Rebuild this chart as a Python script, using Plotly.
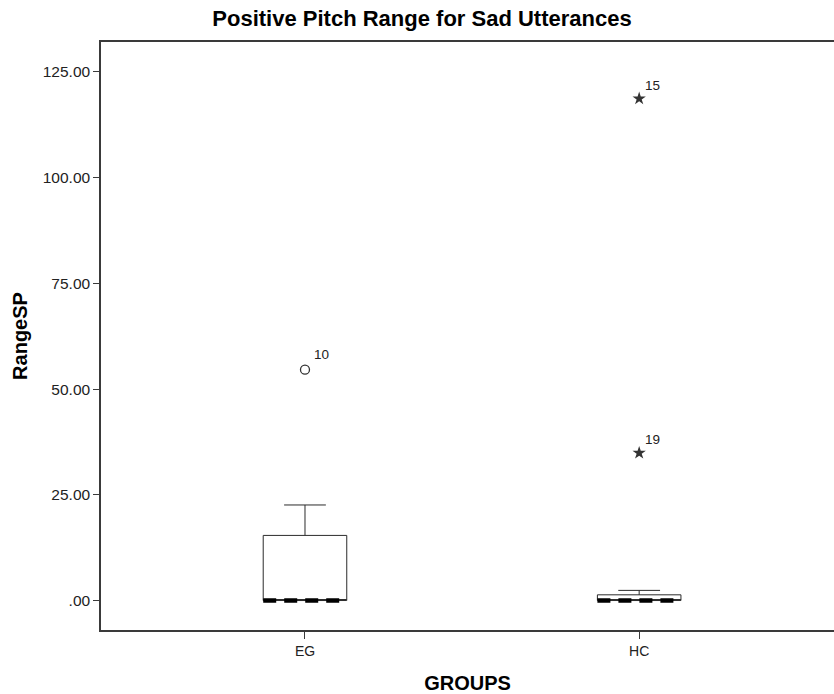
import plotly.graph_objects as go

# Group summary statistics (RangeSP)
groups = ["EG", "HC"]
group_pos = [0, 1]
q1 = [0.0, 0.0]
median = [0.0, 0.0]
q3 = [15.4, 1.35]
lower_fence = [0.0, 0.0]
upper_fence = [22.6, 2.4]

# Outliers (circle) and extreme values (star), with case numbers
outlier_group = [0]
outlier_value = [54.6]
outlier_case = ["10"]
extreme_group = [1, 1]
extreme_value = [118.7, 34.9]
extreme_case = ["15", "19"]

y_ticks = [0, 25, 50, 75, 100, 125]
y_tick_labels = [".00", "25.00", "50.00", "75.00", "100.00", "125.00"]

FONT = "Liberation Sans, Arial, sans-serif"
BOX_W = 0.25

fig = go.Figure()

fig.add_trace(go.Box(
    x=group_pos, q1=q1, median=median, q3=q3,
    lowerfence=lower_fence, upperfence=upper_fence,
    width=BOX_W, whiskerwidth=0.5,
    fillcolor="white", line=dict(color="#2b2b2b", width=1),
    boxpoints=False, showlegend=False, hoverinfo="skip",
))

# Thick dashed median lines
for xp, m in zip(group_pos, median):
    fig.add_trace(go.Scatter(
        x=[xp - BOX_W / 2, xp + BOX_W / 2], y=[m, m], mode="lines",
        line=dict(color="black", width=4.5, dash="13px,8px"),
        showlegend=False, hoverinfo="skip",
    ))

fig.add_trace(go.Scatter(
    x=outlier_group, y=outlier_value, mode="markers",
    marker=dict(symbol="circle-open", size=9, color="#333", line=dict(width=1.3)),
    showlegend=False, hoverinfo="skip",
))
fig.add_trace(go.Scatter(
    x=extreme_group, y=extreme_value, mode="markers",
    marker=dict(symbol="star", size=10, color="#333", line=dict(width=0)),
    showlegend=False, hoverinfo="skip",
))

for xp, v, c in zip(outlier_group, outlier_value, outlier_case):
    fig.add_annotation(x=xp, y=v, text=c, showarrow=False, xanchor="left",
                       yanchor="middle", xshift=7, yshift=15,
                       font=dict(family=FONT, size=13.5, color="#222"))
for xp, v, c in zip(extreme_group, extreme_value, extreme_case):
    fig.add_annotation(x=xp, y=v, text=c, showarrow=False, xanchor="left",
                       yanchor="middle", xshift=4, yshift=13,
                       font=dict(family=FONT, size=13.5, color="#222"))

fig.update_layout(
    width=834, height=694,
    margin=dict(l=101, r=0, t=42, b=64),
    paper_bgcolor="white", plot_bgcolor="white",
    font=dict(family=FONT, color="black"),
    title=dict(text="<b>Positive Pitch Range for Sad Utterances</b>",
               x=0.506, xref="container", xanchor="center",
               y=0.974, yref="container", yanchor="middle",
               font=dict(family=FONT, size=22, color="black")),
    xaxis=dict(
        range=[-0.6104, 1.583], tickvals=group_pos, ticktext=groups,
        showgrid=False, zeroline=False,
        showline=True, mirror=True, linecolor="#3a3a3a", linewidth=1.5,
        ticks="outside", ticklen=7, tickcolor="#3a3a3a", tickwidth=1.2,
        tickfont=dict(family=FONT, size=14, color="#222"),
        title=dict(text="<b>GROUPS</b>", standoff=18,
                   font=dict(family=FONT, size=20, color="black")),
    ),
    yaxis=dict(
        range=[-6.97, 132.09], tickvals=y_ticks, ticktext=y_tick_labels,
        showgrid=False, zeroline=False,
        showline=True, mirror=False, linecolor="#3a3a3a", linewidth=1.5,
        ticks="outside", ticklen=6, tickcolor="#3a3a3a", tickwidth=1.2,
        tickfont=dict(family=FONT, size=15.5, color="#222"),
        title=dict(text="<b>RangeSP</b>", standoff=10,
                   font=dict(family=FONT, size=20, color="black")),
    ),
)

fig.write_html("out.html")
